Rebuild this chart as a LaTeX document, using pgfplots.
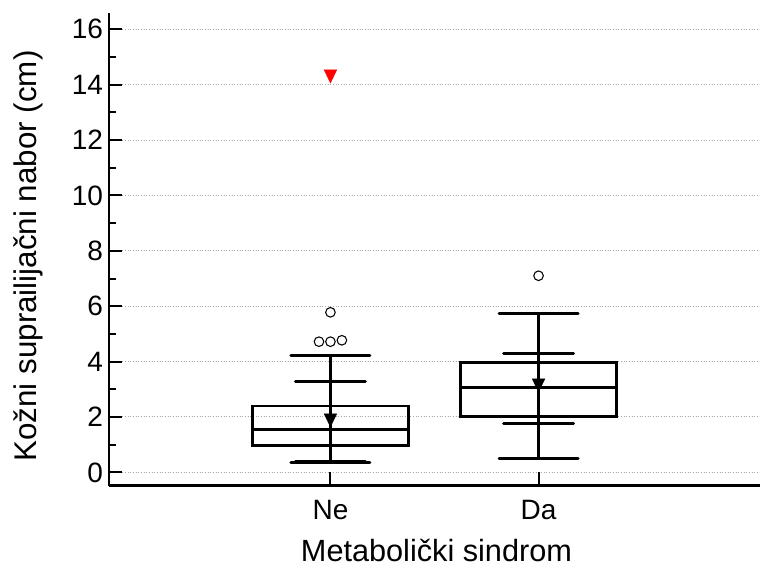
\documentclass[border=0pt]{standalone}
\usepackage{fontspec}
\setmainfont{Liberation Sans}
\usepackage{pgfplots}
\pgfplotsset{compat=1.18}
\begin{document}
\begin{tikzpicture}
\begin{axis}[
 at={(0,0)}, anchor=south west,
 scale only axis, width=488.25pt, height=354.5pt,
 xmin=-0.064, xmax=3.064, ymin=-0.48, ymax=16.59,
 axis x line*=bottom, axis y line*=left,
 axis line style={line width=2pt, -},
 xtick={1,2}, xticklabels={Ne,Da},
 ytick={0,2,...,16}, minor ytick={1,3,...,15},
 tick align=inside,
 major tick length=10pt, minor tick length=5pt,
 every tick/.style={black, line width=1.5pt},
 ymajorgrids, major grid style={gray!70, line width=0.75pt, dash pattern=on 0.75pt off 1.25pt},
 /pgf/number format/assume math mode=true,
 tick label style={font=\fontsize{21}{25}\selectfont},
 xticklabel style={yshift=-7.5pt},
 yticklabel style={xshift=-1pt},
 xlabel={Metabolički sindrom}, ylabel={Kožni suprailijačni nabor (cm)},
 every axis x label/.style={at={(axis description cs:0.503,-0.1614)}, anchor=base, font=\fontsize{23}{27}\selectfont},
 every axis y label/.style={at={(axis description cs:-0.1106,0.486)}, rotate=90, anchor=base, font=\fontsize{23.5}{27}\selectfont},
 clip=false,
]
% Ne
\addplot[black, line width=2pt, line cap=rect, line join=miter] coordinates {(0.625,0.97) (1.375,0.97) (1.375,2.40) (0.625,2.40) (0.625,0.97)};
\addplot[black, line width=1.9pt] coordinates {(0.625,1.55) (1.375,1.55)};
\addplot[black, line width=2pt] coordinates {(1,0.34) (1,4.22)};
\addplot[black, line width=2.2pt, line cap=round] coordinates {(0.81,4.22) (1.19,4.22)};
\addplot[black, line width=2.2pt, line cap=round] coordinates {(0.81,0.34) (1.19,0.34)};
\addplot[black, line width=2.2pt, line cap=round] coordinates {(0.832,3.28) (1.168,3.28)};
\addplot[black, line width=2.2pt, line cap=round] coordinates {(0.832,0.39) (1.168,0.39)};
% Da
\addplot[black, line width=2pt, line cap=rect, line join=miter] coordinates {(1.625,2.02) (2.375,2.02) (2.375,3.97) (1.625,3.97) (1.625,2.02)};
\addplot[black, line width=1.9pt] coordinates {(1.625,3.07) (2.375,3.07)};
\addplot[black, line width=2pt] coordinates {(2,0.51) (2,5.74)};
\addplot[black, line width=2.2pt, line cap=round] coordinates {(1.81,5.74) (2.19,5.74)};
\addplot[black, line width=2.2pt, line cap=round] coordinates {(1.81,0.51) (2.19,0.51)};
\addplot[black, line width=2.2pt, line cap=round] coordinates {(1.832,4.28) (2.168,4.28)};
\addplot[black, line width=2.2pt, line cap=round] coordinates {(1.832,1.78) (2.168,1.78)};
% outliers
\addplot[only marks, mark=o, mark size=3.6pt, mark options={line width=0.8pt, black}] coordinates {(0.945,4.72) (1,4.72) (1.055,4.77) (1,5.78) (2,7.1)};
% means
\addplot[only marks, mark=triangle*, mark size=5.4pt, mark options={black, fill=black, rotate=180, yscale=1.2}] coordinates {(1,1.96) (2,3.22)};
\addplot[only marks, mark=triangle*, mark size=5.4pt, mark options={red, fill=red, rotate=180, yscale=1.2}] coordinates {(1,14.38)};
\end{axis}
\pgfresetboundingbox
\useasboundingbox (-81.75pt,-65.5pt) rectangle (488.25pt,364.25pt);
\end{tikzpicture}
\end{document}
